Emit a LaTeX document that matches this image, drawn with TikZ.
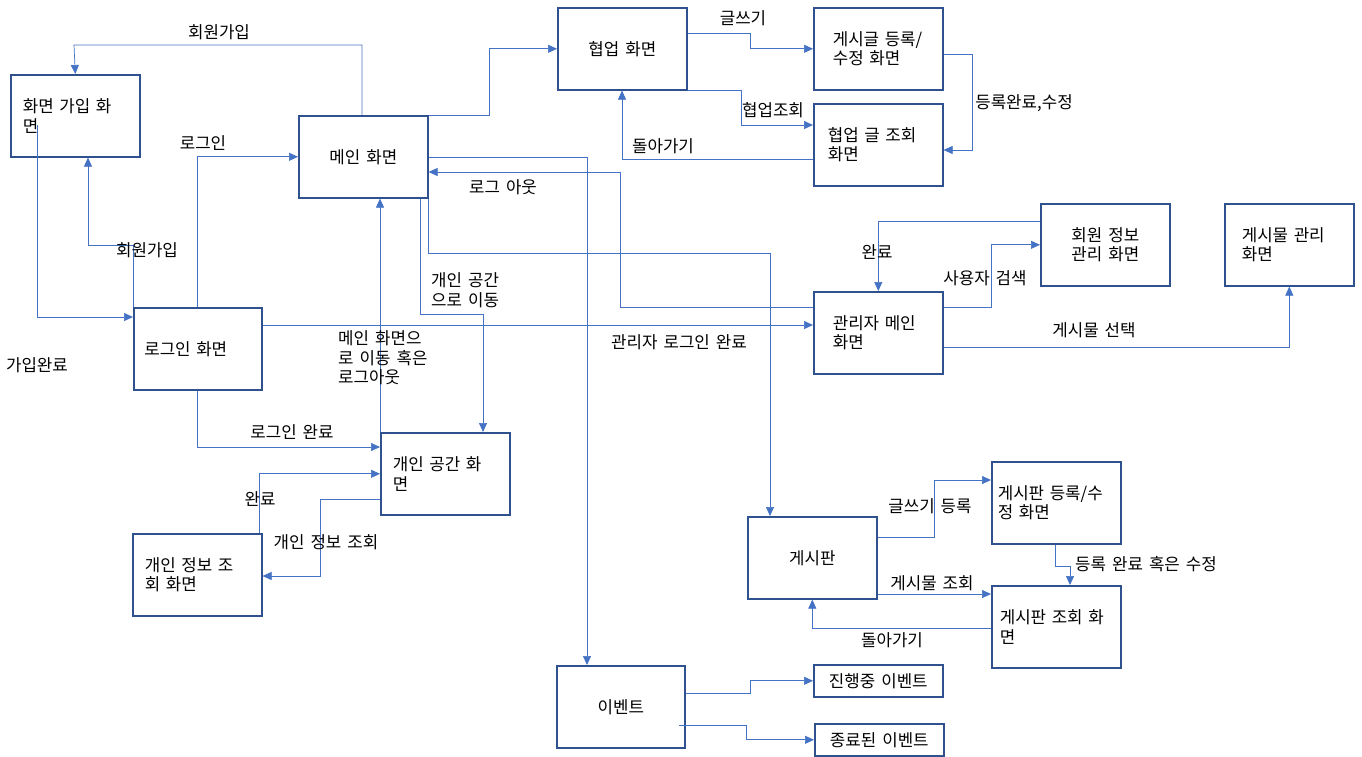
\documentclass[tikz,border=0pt]{standalone}
\usepackage{fontspec}
\setmainfont{Noto Sans CJK KR}[WordSpace=1.6]
\usetikzlibrary{arrows.meta}
\definecolor{boxblue}{HTML}{2F528F}
\definecolor{lineblue}{HTML}{4472C4}
\begin{document}
\begin{tikzpicture}[x=1pt,y=-1pt,
  every node/.style={font=\fontsize{16.8}{19.5}\selectfont, text=black},
  box/.style={draw=boxblue, line width=1.6pt, minimum width=129pt, minimum height=82pt, anchor=north west, inner xsep=0pt, inner ysep=0pt},
  cbox/.style={box, align=center},
  lbox/.style={box, align=left, text width=#1},
  sbox/.style={cbox, minimum height=32pt},
  conn/.style={draw=lineblue, line width=0.7pt, -{Triangle[length=9pt,width=8pt]}},
  lab/.style={inner sep=0pt}
]
\fill[white] (0,0) rectangle (1362,756);
\useasboundingbox (0,0) rectangle (1362,756);

% boxes
\node[lbox=105pt] (signup) at (10,74) {화면~가입~화\\면};
\node[cbox] (main) at (298,115) {메인 화면};
\node[lbox=107pt, minimum width=128pt] (login) at (133,307) {로그인~화면};
\node[cbox] (collab) at (557,7) {협업 화면};
\node[lbox=91pt] (postedit) at (813,7) {게시글~등록/\\수정~화면};
\node[lbox=101pt] (collabview) at (813,103) {협업~글~조회\\화면};
\node[cbox] (memberinfo) at (1040,203) {회원 정보\\관리 화면};
\node[lbox=95pt] (postmgmt) at (1224,203) {게시물~관리\\화면};
\node[lbox=91pt] (adminmain) at (813,291) {관리자~메인\\화면};
\node[lbox=105pt] (personal) at (380,432) {개인~공간~화\\면};
\node[lbox=105pt] (personalinfo) at (132,533) {개인~정보~조\\회~화면};
\node[cbox] (board) at (747,516) {게시판};
\node[lbox=117pt] (boardedit) at (991,461) {게시판~등록/수\\정~화면};
\node[lbox=113pt] (boardview) at (991,585) {게시판~조회~화\\면};
\node[cbox, minimum width=128pt] (event) at (556,665) {이벤트};
\node[sbox] (ongoing) at (813,664) {진행중 이벤트};
\node[sbox] (ended) at (814,723) {종료된 이벤트};

% connectors
\draw[conn] ([xshift=64pt]main.north west) |- (74,45) -- (signup.north);
\draw[conn] ([xshift=27pt,yshift=-51pt]signup.north west) |- ([yshift=-10pt]login.north west);
\draw[conn] (login.north west) -- ++(0,-62) -| ([xshift=78pt]signup.south west);
\draw[conn] ([xshift=64pt]login.north west) |- (main.west);
\draw[conn] (main.north east) -- ++(61,0) |- (collab.west);
\draw[conn] ([yshift=-26pt]collab.north east) -- ++(63,0) |- (postedit.west);
\draw[conn] (collab.south east) -- ++(54,0) |- ([yshift=-22pt]collabview.north west);
\draw[conn] ([yshift=-56pt]collabview.north west) -| ([xshift=65pt]collab.south west);
\draw[conn] ([yshift=-47pt]postedit.north east) -- ++(29,0) |- ([yshift=-47pt]collabview.north east);
\draw[conn] ([yshift=-42pt]main.north east) -| ([xshift=31pt]event.north west);
\draw[conn] ([yshift=-16pt]adminmain.north west) -- ++(-193,0) |- ([yshift=-57pt]main.north east);
\draw[conn] (main.south east) -- ++(0,55) -| ([xshift=23pt]board.north west);
\draw[conn] ([xshift=122pt]main.south west) -- ++(0,116) -| ([xshift=103pt]personal.north west);
\draw[conn] (personal.north west) -- ([xshift=82pt]main.south west);
\draw[conn] ([yshift=-18pt]login.north east) -- ([yshift=-34pt]adminmain.north west);
\draw[conn] ([xshift=64pt]login.south west) |- ([yshift=-15pt]personal.north west);
\draw[conn] ([xshift=127pt]personalinfo.north west) |- (personal.west);
\draw[conn] ([yshift=-67pt]personal.north west) -- ++(-60,0) |- ([yshift=-43pt]personalinfo.north east);
\draw[conn] ([yshift=-16pt]adminmain.north east) -- ++(48,0) |- (memberinfo.west);
\draw[conn] ([yshift=-18pt]memberinfo.north west) -| (adminmain.north);
\draw[conn] ([yshift=-56pt]adminmain.north east) -| (postmgmt.south);
\draw[conn] ([yshift=-21pt]board.north east) -- ++(57,0) |- ([yshift=-19pt]boardedit.north west);
\draw[conn] ([yshift=-78pt]board.north east) -- ([yshift=-9pt]boardview.north west);
\draw[conn] ([yshift=-43pt]boardview.north west) -| (board.south);
\draw[conn] ([xshift=64pt]boardedit.south west) -- ++(0,22) -| ([xshift=79pt]boardview.north west);
\draw[conn] ([yshift=-28pt]event.north east) -- ++(65,0) |- (ongoing.west);
\draw[conn] ([xshift=123pt,yshift=-60pt]event.north west) -- ++(67,0) |- (ended.west);

% labels
\node[lab] (lSignupTop) at (219,32) {회원가입};
\node[lab] (lLogin) at (203,143) {로그인};
\node[lab] (lSignupLeft) at (147,250) {회원가입};
\node[lab] (lJoined) at (37,365) {가입완료};
\node[lab] (lLoginDone) at (292,432) {로그인 완료};
\node[lab] (lDone1) at (260,499) {완료};
\node[lab] (lInfoView) at (326,542) {개인 정보 조회};
\node[lab, align=left, anchor=west] (lToMain) at (338,358) {메인 화면으\\로 이동 혹은\\로그아웃};
\node[lab, align=left, anchor=west] (lToPersonal) at (431,290) {개인 공간\\으로 이동};
\node[lab] (lLogout) at (503,187) {로그 아웃};
\node[lab] (lAdminLogin) at (679,342) {관리자 로그인 완료};
\node[lab] (lWrite) at (743,18) {글쓰기};
\node[lab] (lCollabView) at (773,110) {협업조회};
\node[lab] (lBack1) at (663,146) {돌아가기};
\node[lab] (lRegDone) at (1024,103) {등록완료,수정};
\node[lab] (lDone2) at (877,252) {완료};
\node[lab] (lUserSearch) at (985,278) {사용자 검색};
\node[lab] (lPostSel) at (1094,330) {게시물 선택};
\node[lab] (lWriteReg) at (930,506) {글쓰기 등록};
\node[lab] (lPostView) at (932,583) {게시물 조회};
\node[lab] (lBack2) at (892,640) {돌아가기};
\node[lab] (lRegOrEdit) at (1146,564) {등록 완료 혹은 수정};
\end{tikzpicture}
\end{document}
